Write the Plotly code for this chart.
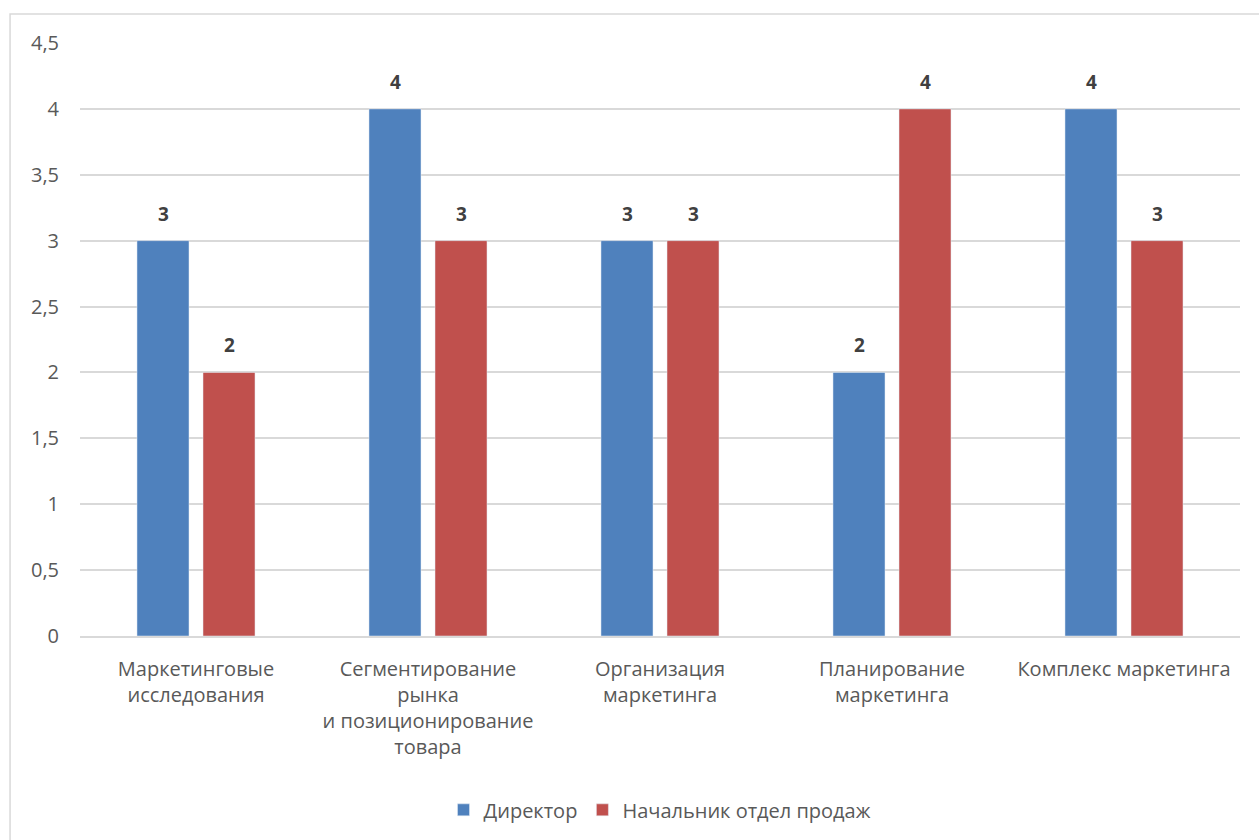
import plotly.graph_objects as go

categories = [
    "Маркетинговые<br>исследования",
    "Сегментирование<br>рынка<br>и позиционирование<br>товара",
    "Организация<br>маркетинга",
    "Планирование<br>маркетинга",
    "Комплекс маркетинга",
]
director = [3, 4, 3, 2, 4]
sales_head = [2, 3, 3, 4, 3]
y_ticks = [0, 0.5, 1, 1.5, 2, 2.5, 3, 3.5, 4, 4.5]
y_tick_text = ["0", "0,5", "1", "1,5", "2", "2,5", "3", "3,5", "4", "4,5"]

FONT = "Open Sans"
TEXT_COLOR = "#595959"

fig = go.Figure()
fig.add_trace(go.Bar(name="Директор", x=categories, y=director, marker_color="#4F81BD"))
fig.add_trace(go.Bar(name="Начальник отдел продаж", x=categories, y=sales_head,
                     marker_color="#C0504D"))

# value labels above each bar, offset to the bar's slot inside the group
annotations = []
for values, shift in ((director, -33), (sales_head, 33)):
    for cat, v in zip(categories, values):
        annotations.append(dict(
            x=cat, y=v, xref="x", yref="y", text=f"<b>{v}</b>", showarrow=False,
            xshift=shift, yanchor="bottom", yshift=12,
            font=dict(family=FONT, size=19, color="#404040"),
        ))

fig.update_layout(
    width=1259, height=840,
    margin=dict(l=80, r=19, t=43, b=203),
    paper_bgcolor="white", plot_bgcolor="white",
    barmode="group", bargap=0.431, bargroupgap=0.212,
    font=dict(family=FONT, size=20, color=TEXT_COLOR),
    showlegend=True,
    legend=dict(orientation="h", x=0.5, xanchor="center", y=-0.291, yanchor="middle",
                font=dict(family=FONT, size=20, color=TEXT_COLOR),
                traceorder="normal"),
    annotations=annotations,
    shapes=[dict(type="rect", xref="paper", yref="paper",
                 x0=-0.0603, x1=1.2, y0=-0.5, y1=1.0488,
                 line=dict(color="#D9D9D9", width=1.5), layer="below")],
)
fig.update_xaxes(showgrid=False, showline=True, linecolor="#D9D9D9", linewidth=1.5,
                 ticks="", ticklabelstandoff=14,
                 tickfont=dict(family=FONT, size=20, color=TEXT_COLOR), tickangle=0)
fig.update_yaxes(range=[0, 4.5], tickvals=y_ticks, ticktext=y_tick_text,
                 showgrid=True, gridcolor="#D9D9D9", gridwidth=1.5,
                 zeroline=False, showline=False, ticks="", ticklabelstandoff=20,
                 tickfont=dict(family=FONT, size=20, color=TEXT_COLOR))

fig.write_html("out.html")
